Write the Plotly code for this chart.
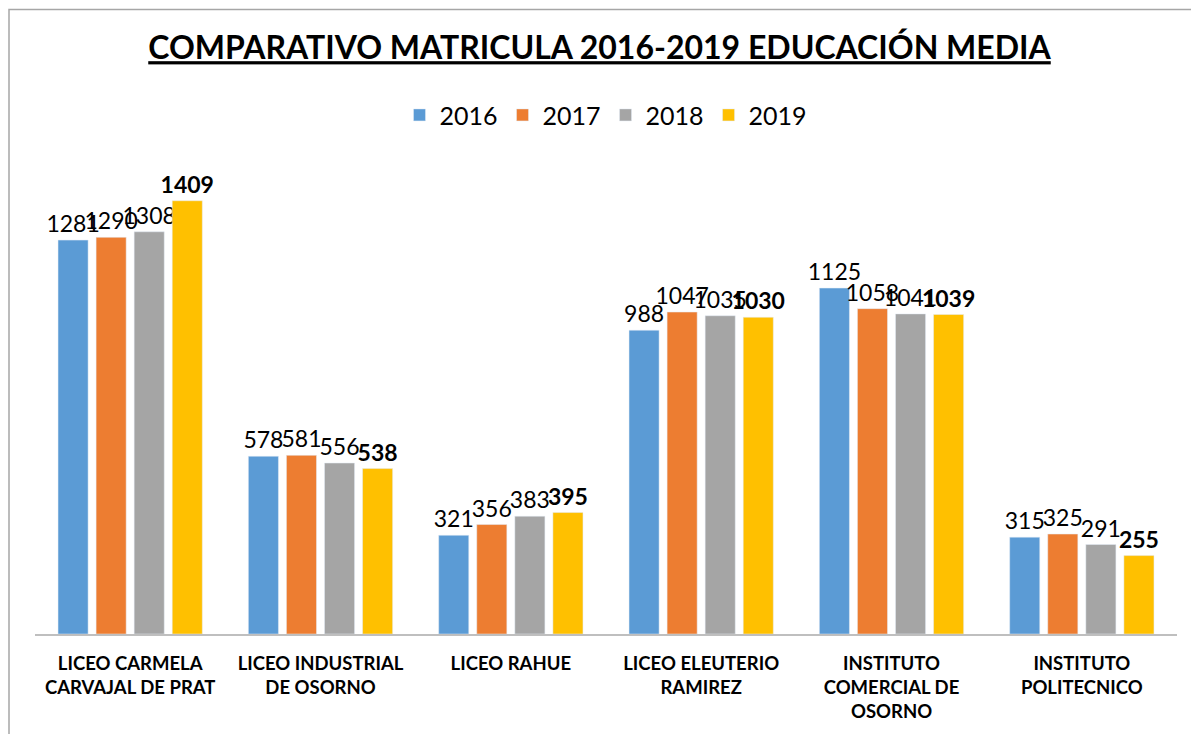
import plotly.graph_objects as go

categories = ["LICEO CARMELA<br>CARVAJAL DE PRAT", "LICEO INDUSTRIAL<br>DE OSORNO", "LICEO RAHUE",
              "LICEO ELEUTERIO<br>RAMIREZ", "INSTITUTO<br>COMERCIAL DE<br>OSORNO", "INSTITUTO<br>POLITECNICO"]
years = ["2016", "2017", "2018", "2019"]
v2016 = [1281, 578, 321, 988, 1125, 315]
v2017 = [1290, 581, 356, 1047, 1058, 325]
v2018 = [1308, 556, 383, 1035, 1041, 291]
v2019 = [1409, 538, 395, 1030, 1039, 255]
colors = ["#5B9BD5", "#ED7D31", "#A5A5A5", "#FFC000"]

FONT = "Lato, Calibri, sans-serif"
fig = go.Figure()
for i, (yr, vals) in enumerate(zip(years, [v2016, v2017, v2018, v2019])):
    tmpl = "<b>%{y}</b>" if yr == "2019" else "%{y}"
    fig.add_trace(go.Bar(
        x=categories, y=vals, name=yr, marker_color=colors[i],
        text=vals, texttemplate=tmpl, textposition="outside",
        constraintext="none",
        textfont=dict(size=23, color="black", family=FONT),
        cliponaxis=False,
    ))

W, H = 1183, 726
L, R, T, B = 27, 14, 142, 98
pw = W - L - R
ph = H - T - B

fig.update_layout(
    width=W, height=H,
    barmode="group", bargap=0.2, bargroupgap=0.21,
    margin=dict(l=L, r=R, t=T, b=B),
    paper_bgcolor="white", plot_bgcolor="white",
    font=dict(family=FONT, color="black"),
    title=dict(text="<u><b>COMPARATIVO MATRICULA 2016-2019 EDUCACIÓN MEDIA</b></u>",
               x=0.5, xanchor="center", y=1 - 40 / H, yanchor="middle",
               font=dict(size=32, family=FONT, color="black")),
    legend=dict(orientation="h", x=0.5, xanchor="center", y=(H - B - 107) / ph, yanchor="middle",
                font=dict(size=25, family=FONT), itemwidth=30, traceorder="normal"),
    showlegend=True,
    xaxis=dict(showline=True, linecolor="#BFBFBF", linewidth=1.5, ticks="",
               tickangle=0, tickfont=dict(size=18.5, family=FONT, color="black"),
               ticklabelstandoff=12,
               tickvals=categories, ticktext=["<b>%s</b>" % c for c in categories]),
    yaxis=dict(visible=False, range=[0, 1574]),
    shapes=[dict(type="rect", xref="paper", yref="paper",
                 x0=(1 - L) / pw, x1=(W + 10 - L) / pw,
                 y0=-(B + 10) / ph, y1=1 + (T - 1) / ph,
                 line=dict(color="#A6A6A6", width=1.5), fillcolor="rgba(0,0,0,0)", layer="below")],
)

fig.write_html("out.html")
